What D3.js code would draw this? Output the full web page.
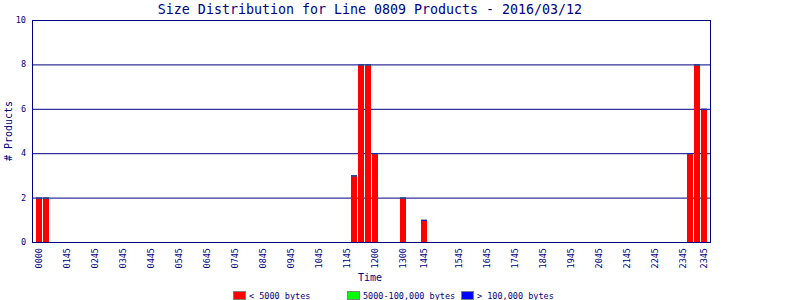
<!DOCTYPE html>
<html>
<head>
<meta charset="utf-8">
<script src="https://cdn.jsdelivr.net/npm/d3@7"></script>
<style>
  body { margin: 0; background: #fff; }
  text { font-family: "DejaVu Sans Mono", monospace; fill: #000080; }
</style>
</head>
<body>
<svg id="chart" width="800" height="300"></svg>
<script>
// 96 fifteen-minute slots, only the non-empty ones listed
const slotCount = 96;
const smallSlots = [0, 1, 45, 46, 47, 48, 52, 55, 93, 94, 95];
const smallCounts = [2, 2, 3, 8, 8, 4, 2, 1, 4, 8, 6];
const mediumCounts = [];   // 5000-100,000 bytes: none
const largeCounts = [];    // > 100,000 bytes: none

// x tick labels as printed, with the slot they sit under
const tickSlots = [0, 4, 8, 12, 16, 20, 24, 28, 32, 36, 40, 44, 48, 52, 55, 60, 64, 68, 72, 76, 80, 84, 88, 92, 95];
const tickLabels = ['0000', '0145', '0245', '0345', '0445', '0545', '0645', '0745', '0845', '0945', '1045', '1145',
  '1200', '1300', '1445', '1545', '1645', '1745', '1845', '1945', '2045', '2145', '2245', '2345', '2345'];

const yTicks = [0, 2, 4, 6, 8, 10];
const seriesNames = ['< 5000 bytes', '5000-100,000 bytes', '> 100,000 bytes'];
const seriesColors = ['#ff0000', '#00ff00', '#0000ff'];

const navy = '#000080';
const plot = {left: 32, right: 710, top: 20, bottom: 242};

const svg = d3.select('#chart');

const rows = d3.range(slotCount).map(i => {
  const k = smallSlots.indexOf(i);
  return {
    slot: i,
    small: k === -1 ? 0 : smallCounts[k],
    medium: mediumCounts[i] || 0,
    large: largeCounts[i] || 0
  };
});

const stack = d3.stack().keys(['small', 'medium', 'large'])(rows);

const x = d3.scaleBand()
    .domain(d3.range(slotCount))
    .range([plot.left + 3.5, plot.right - 2.5])
    .paddingInner(1 / 7)
    .paddingOuter(1 / 14);

const y = d3.scaleLinear()
    .domain([0, 10])
    .range([plot.bottom, plot.top]);

// grid
svg.append('g')
  .selectAll('line')
  .data(yTicks.slice(1))
  .join('line')
    .attr('x1', plot.left).attr('x2', plot.right)
    .attr('y1', d => y(d) + 0.5).attr('y2', d => y(d) + 0.5)
    .attr('stroke', navy);

// bars (zero-height stacked parts still show as a 1px line, as in the original)
svg.append('g')
  .selectAll('g')
  .data(stack)
  .join('g')
    .attr('fill', (d, i) => seriesColors[i])
  .selectAll('rect')
  .data(d => d.filter(p => p.data.small + p.data.medium + p.data.large > 0))
  .join('rect')
    .attr('x', d => x(d.data.slot))
    .attr('width', x.bandwidth())
    .attr('y', d => y(d[1]))
    .attr('height', d => Math.max(1, y(d[0]) - y(d[1])));

// frame
svg.append('g')
  .attr('stroke', navy)
  .call(g => g.append('line')
      .attr('x1', plot.left + 0.5).attr('x2', plot.left + 0.5)
      .attr('y1', plot.top).attr('y2', plot.bottom + 1))
  .call(g => g.append('line')
      .attr('x1', plot.right + 0.5).attr('x2', plot.right + 0.5)
      .attr('y1', plot.top).attr('y2', plot.bottom + 1))
  .call(g => g.append('line')
      .attr('x1', plot.left).attr('x2', plot.right + 1)
      .attr('y1', plot.bottom + 0.5).attr('y2', plot.bottom + 0.5));

// y labels
svg.append('g')
  .selectAll('text')
  .data(yTicks)
  .join('text')
    .attr('x', 26)
    .attr('y', d => y(d) + 3)
    .attr('text-anchor', 'end')
    .style('font-size', '8.5px')
    .text(d => d);

// x labels
svg.append('g')
  .selectAll('text')
  .data(tickSlots)
  .join('text')
    .attr('transform', d => `translate(${x(d) + x.bandwidth() / 2 + 3},248) rotate(-90)`)
    .attr('text-anchor', 'end')
    .style('font-size', '8.5px')
    .text((d, i) => tickLabels[i]);

// titles
svg.append('text')
    .attr('x', 370).attr('y', 14)
    .attr('text-anchor', 'middle')
    .style('font-size', '13.3px')
    .text('Size Distribution for Line 0809 Products - 2016/03/12');

svg.append('text')
    .attr('x', 370).attr('y', 281)
    .attr('text-anchor', 'middle')
    .style('font-size', '10px')
    .text('Time');

svg.append('text')
    .attr('transform', `translate(12,${(plot.top + plot.bottom) / 2}) rotate(-90)`)
    .attr('text-anchor', 'middle')
    .style('font-size', '10px')
    .text('# Products');

// legend
const legendX = [233, 347, 461];
const legend = svg.append('g')
  .selectAll('g')
  .data(seriesNames)
  .join('g')
    .attr('transform', (d, i) => `translate(${legendX[i]},291)`);

legend.append('rect')
    .attr('x', 0.5).attr('y', 0.5)
    .attr('width', 12).attr('height', 8)
    .attr('fill', (d, i) => seriesColors[i])
    .attr('stroke', '#808080');

legend.append('text')
    .attr('x', (d, i) => i === 1 ? 16 : 16)
    .attr('y', 7.5)
    .style('font-size', '8.5px')
    .text(d => d);
</script>
</body>
</html>
